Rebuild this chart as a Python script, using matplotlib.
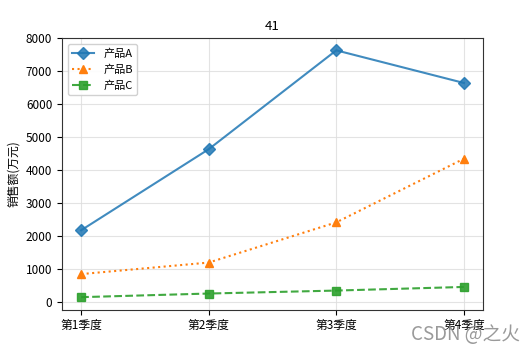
import matplotlib
matplotlib.use('Agg')
import matplotlib.pyplot as plt

plt.rcParams['font.family'] = ['Noto Sans CJK SC', 'DejaVu Sans']
plt.rcParams['axes.unicode_minus'] = False

quarters = ['第1季度', '第2季度', '第3季度', '第4季度']
sales_a = [2180, 4640, 7640, 6650]
sales_b = [850, 1200, 2420, 4350]
sales_c = [150, 260, 350, 460]

fig = plt.figure(figsize=(5.24, 3.52), dpi=100)
ax = fig.add_axes([62 / 524, 1 - 309.5 / 352, (483 - 62) / 524, (309.5 - 38) / 352])

ax.plot(quarters, sales_a, marker='D', linestyle='-', color='#1f77b4', alpha=0.85,
        markersize=6, linewidth=1.5, label='产品A')
ax.plot(quarters, sales_b, marker='^', linestyle=':', color='#ff7f0e', alpha=1.0,
        markersize=6, linewidth=1.5, label='产品B')
ax.plot(quarters, sales_c, marker='s', linestyle='--', color='#2ca02c', alpha=0.9,
        markersize=6, linewidth=1.5, label='产品C')

ax.set_title('41', fontsize=9.5)
ax.set_ylabel('销售额(万元)', fontsize=8.5)
ax.tick_params(labelsize=8.5)
for s in ax.spines.values():
    s.set_color('#333333')
ax.grid(True, color='#dddddd', linewidth=0.8, alpha=0.8)
ax.legend(loc='upper left', fontsize=8, framealpha=0.9)

# CSDN watermark in the lower right corner
fig.text(0.992, 0.02, 'CSDN @之火', ha='right', va='bottom', fontsize=13.5,
         color='#888888', alpha=0.85)

plt.savefig('out.png', dpi=100)
